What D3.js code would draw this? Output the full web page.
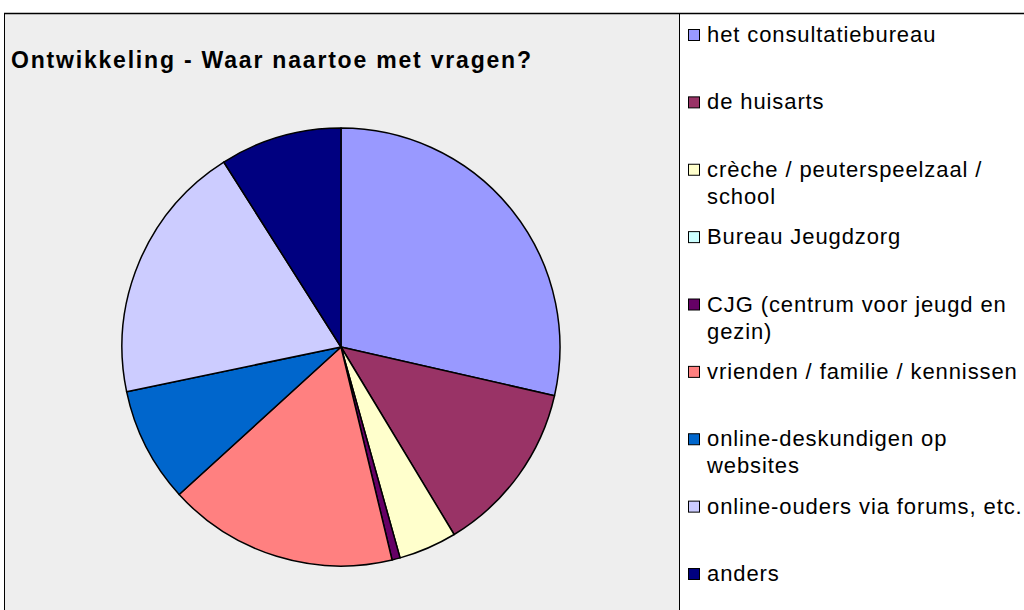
<!DOCTYPE html>
<meta charset="utf-8">
<html>
<head>
    <title>Ontwikkeling</title>
    <script src="https://d3js.org/d3.v7.min.js"></script>
    <style>
        body { margin: 0; background: #fff; }
        text { font-family: "Liberation Sans", Arial, sans-serif; fill: #000; }
    </style>
</head>
<body>
<script>
    // categories + shares (percent)
    var categories = ["het consultatiebureau", "de huisarts", "crèche / peuterspeelzaal / school",
        "Bureau Jeugdzorg", "CJG (centrum voor jeugd en gezin)", "vrienden / familie / kennissen",
        "online-deskundigen op websites", "online-ouders via forums, etc.", "anders"];
    var values = [28.6, 12.8, 4.3, 0, 0.6, 17.0, 8.5, 19.3, 9.0];
    var colors = ["#9999ff", "#993366", "#ffffcc", "#ccffff", "#660066", "#ff8080", "#0066cc", "#ccccff", "#000080"];
    // legend labels as they wrap in the original
    var legendLines = [["het consultatiebureau"], ["de huisarts"], ["crèche / peuterspeelzaal /", "school"],
        ["Bureau Jeugdzorg"], ["CJG (centrum voor jeugd en", "gezin)"], ["vrienden / familie / kennissen"],
        ["online-deskundigen op", "websites"], ["online-ouders via forums, etc."], ["anders"]];
    var title = "Ontwikkeling - Waar naartoe met vragen?";

    var width = 1024, height = 610;

    var svg = d3.select("body").append("svg")
        .attr("width", width)
        .attr("height", height);

    // plot area (grey) and frame
    svg.append("rect")
        .attr("x", 4.5).attr("y", 13.5)
        .attr("width", 675).attr("height", 610)
        .attr("fill", "#eeeeee")
        .attr("stroke", "#000").attr("stroke-width", 1);
    svg.append("line")
        .attr("x1", 4).attr("x2", width)
        .attr("y1", 13.5).attr("y2", 13.5)
        .attr("stroke", "#000").attr("stroke-width", 1.5);

    svg.append("text")
        .attr("x", 11).attr("y", 68)
        .style("font-size", "23px")
        .style("font-weight", "bold")
        .style("letter-spacing", "1.8px")
        .text(title);

    var data = categories.map(function (c, i) { return { name: c, value: values[i], color: colors[i] }; });

    var pie = d3.pie().sort(null).value(function (d) { return d.value; });
    var arc = d3.arc().innerRadius(0).outerRadius(219);

    var g = svg.append("g").attr("transform", "translate(341,347)");
    g.selectAll("path")
        .data(pie(data).filter(function (d) { return d.value > 0; }))
        .enter().append("path")
        .attr("d", arc)
        .attr("fill", function (d) { return d.data.color; })
        .attr("stroke", "#000")
        .attr("stroke-width", 1.5)
        .attr("stroke-linejoin", "round");

    // legend
    var legendY = d3.scaleLinear().domain([0, categories.length - 1]).range([35, 574]);

    var item = svg.selectAll(".legend")
        .data(data)
        .enter().append("g")
        .attr("class", "legend")
        .attr("transform", function (d, i) { return "translate(688," + legendY(i) + ")"; });

    item.append("rect")
        .attr("x", 0.5).attr("y", -5.5)
        .attr("width", 11).attr("height", 11)
        .attr("fill", function (d) { return d.color; })
        .attr("stroke", "#000").attr("stroke-width", 1);

    item.append("text")
        .attr("x", 19)
        .style("font-size", "22px")
        .style("letter-spacing", "0.9px")
        .selectAll("tspan")
        .data(function (d, i) { return legendLines[i]; })
        .enter().append("tspan")
        .attr("x", 19)
        .attr("y", function (d, j) { return 7 + j * 27; })
        .text(function (d) { return d; });
</script>
</body>
</html>
